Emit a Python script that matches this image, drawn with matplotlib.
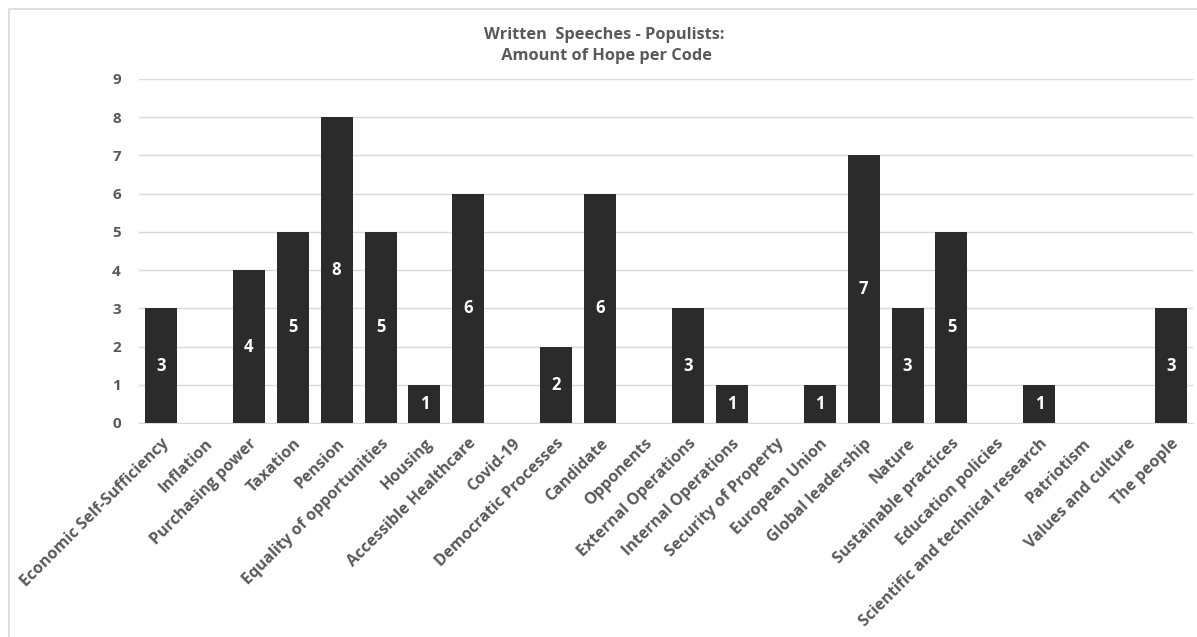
import matplotlib.pyplot as plt
from matplotlib.patches import Rectangle

codes = [
    "Economic Self-Sufficiency", "Inflation", "Purchasing power", "Taxation",
    "Pension", "Equality of opportunities", "Housing", "Accessible Healthcare",
    "Covid-19", "Democratic Processes", "Candidate", "Opponents",
    "External Operations", "Internal Operations", "Security of Property",
    "European Union", "Global leadership", "Nature", "Sustainable practices",
    "Education policies", "Scientific and technical research", "Patriotism",
    "Values and culture", "The people",
]
hope = [3, 0, 4, 5, 8, 5, 1, 6, 0, 2, 6, 0, 3, 1, 0, 1, 7, 3, 5, 0, 1, 0, 0, 3]
yticks = list(range(0, 10))

plt.rcParams['font.family'] = ['Open Sans', 'DejaVu Sans']
grey = '#595959'

fig = plt.figure(figsize=(11.97, 6.37), dpi=100)
ax = fig.add_axes([139 / 1197, (637 - 423) / 637, (1193 - 139) / 1197, 344 / 637])

# outer chart frame
fig.patches.append(Rectangle((9 / 1197, -0.05), 1.2, (637 - 9) / 637 + 0.05,
                             transform=fig.transFigure, fill=False,
                             edgecolor='#d9d9d9', linewidth=1.2))

x = range(len(codes))
bars = ax.bar(x, hope, width=0.73, color='#2b2b2b', zorder=3)
for xi, v in zip(x, hope):
    if v > 0:
        ax.text(xi, v / 2, str(v), ha='center', va='center', color='white',
                fontsize=12, fontweight='bold', zorder=4)

ax.set_xlim(-0.5, len(codes) - 0.5)
ax.set_ylim(0, 9)
ax.set_yticks(yticks)
ax.yaxis.grid(True, color='#d9d9d9', linewidth=1, zorder=0)
for s in ['top', 'right', 'left']:
    ax.spines[s].set_visible(False)
ax.spines['bottom'].set_color('#d9d9d9')
ax.tick_params(axis='both', length=0, colors=grey)
ax.tick_params(axis='y', pad=13)
for lab in ax.get_yticklabels():
    lab.set_fontweight('bold')
    lab.set_fontsize(11)

ax.set_xticks(list(x))
ax.set_xticklabels(codes, rotation=45, ha='right', rotation_mode='anchor',
                   fontsize=11.5, fontweight='bold', color=grey)
ax.tick_params(axis='x', pad=9)

fig.text(0.505, 0.958, "Written  Speeches - Populists:\n Amount of Hope per Code",
         ha='center', va='top', fontsize=11.8, fontweight='bold', color=grey,
         linespacing=1.4)

fig.savefig('out.png', dpi=100, facecolor='white')
